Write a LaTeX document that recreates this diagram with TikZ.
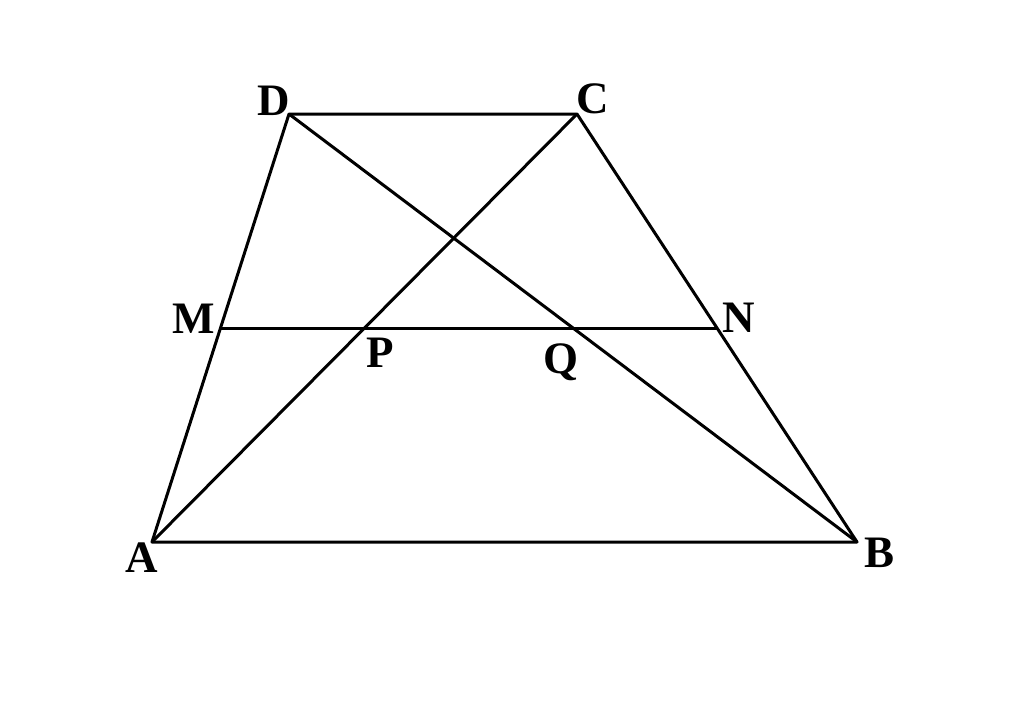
\documentclass[tikz,border=0pt]{standalone}
\usepackage{fontspec}
\setmainfont{Liberation Serif}
\usetikzlibrary{calc,intersections}
\begin{document}
\begin{tikzpicture}[x=1pt,y=-1pt,line width=3pt,line join=round,
  lbl/.style={anchor=base,inner sep=0pt,font=\fontsize{45}{45}\selectfont\bfseries}]
\useasboundingbox[fill=white] (0,0) rectangle (1024,707);
\coordinate (A) at (152,542);
\coordinate (B) at (857,542);
\coordinate (C) at (577,114);
\coordinate (D) at (289,114);
\coordinate (M) at ($(A)!0.5!(D)$);
\coordinate (N) at ($(B)!0.5!(C)$);
\coordinate (P) at ($(A)!0.5!(C)$);
\coordinate (Q) at ($(B)!0.5!(D)$);
\draw (A) -- (B) -- (C) -- (D) -- cycle;
\draw (A) -- (C);
\draw (B) -- (D);
\draw (M) -- (N);
\node[lbl] (lD) at (274,115) {D};
\node[lbl] (lC) at (593,113) {C};
\node[lbl] (lM) at (194,333) {M};
\node[lbl] (lP) at (380,367) {P};
\node[lbl] (lQ) at (561,373) {Q};
\node[lbl] (lN) at (739,332) {N};
\node[lbl] (lA) at (142,572) {A};
\node[lbl] (lB) at (879,567) {B};
\end{tikzpicture}
\end{document}
